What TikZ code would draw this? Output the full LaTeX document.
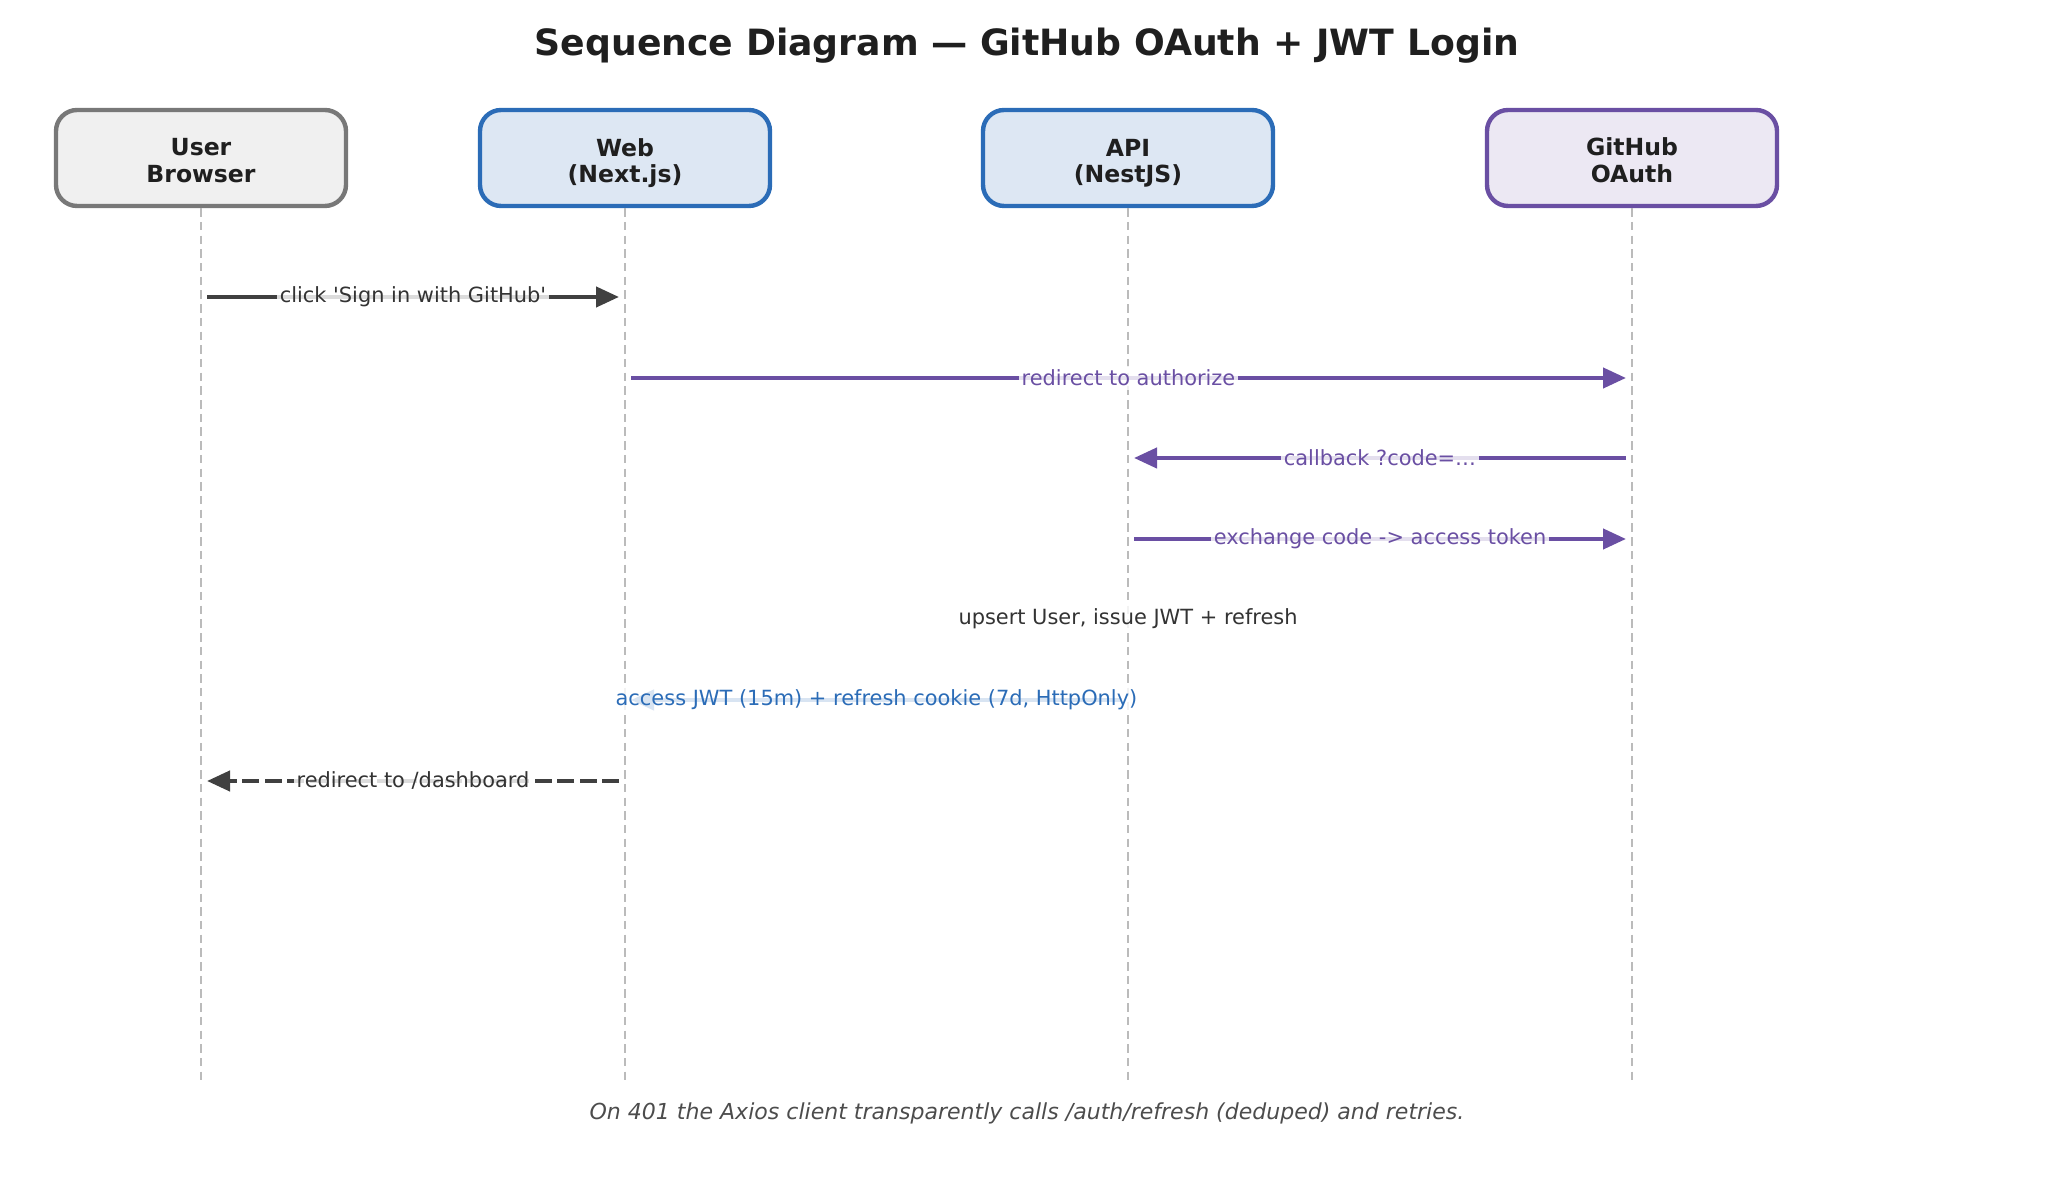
\documentclass[tikz,border=0pt]{standalone}
\usepackage{fontspec}
\setmainfont{DejaVu Sans}
\usepackage{xcolor}
\usetikzlibrary{arrows.meta, positioning, calc}

\definecolor{inkgray}{HTML}{404040}
\definecolor{txtgray}{HTML}{333333}
\definecolor{oauthpurple}{HTML}{6A4FA3}
\definecolor{apiblue}{HTML}{2B6CB7}
\definecolor{lifegray}{HTML}{BBBBBB}

\newcommand{\boxstrut}[1][6.4pt]{\rule{0pt}{#1}}

\begin{document}
\begin{tikzpicture}[
  actor/.style={rectangle, rounded corners=6pt, line width=1.25pt,
    minimum width=2.9cm, minimum height=0.96cm, align=center,
    font=\bfseries\fontsize{6.7}{7.8}\selectfont, text=black!88},
  useractor/.style={actor, draw=black!53, fill=black!6},
  svcactor/.style={actor, draw=apiblue, fill=apiblue!16,
    font=\bfseries\fontsize{6.7}{7.5}\selectfont},
  ghactor/.style={actor, draw=oauthpurple, fill=oauthpurple!13},
  life/.style={draw=lifegray, line width=0.6pt, dash pattern=on 2.4pt off 1.5pt},
  msg/.style={-{Triangle[length=2.3mm, width=2mm]}, line width=1.2pt,
    shorten <=0.6mm, shorten >=0.6mm},
  msglbl/.style={fill=white, fill opacity=0.82, text opacity=1,
    inner xsep=0.8pt, inner ysep=1pt, font=\fontsize{5.95}{7}\selectfont}
]
\useasboundingbox (0,0) rectangle (20.55,11.95);

%% --- Title ---
\node[font=\bfseries\fontsize{10.3}{12}\selectfont, text=black!88] (title) at (10.27,11.49)
  {Sequence Diagram — GitHub OAuth + JWT Login};

%% --- Participants ---
\node[useractor] (user) at ( 2.01,10.37) {\boxstrut User\\Browser};
\node[svcactor]  (web)  at ( 6.25,10.37) {\boxstrut[8pt]Web\\(Next.js)};
\node[svcactor]  (api)  at (11.28,10.37) {\boxstrut[8pt]API\\(NestJS)};
\node[ghactor]   (gh)   at (16.32,10.37) {\boxstrut GitHub\\OAuth};

%% --- Lifelines ---
\coordinate (bottom) at (0,1.12);
\draw[life] (user.south) -- (user |- bottom);
\draw[life] (web.south)  -- (web |- bottom);
\draw[life] (api.south)  -- (api |- bottom);
\draw[life] (gh.south)   -- (gh |- bottom);

%% --- Message rows ---
\coordinate (m1) at (0,8.98);
\coordinate (m2) at (0,8.17);
\coordinate (m3) at (0,7.37);
\coordinate (m4) at (0,6.56);
\coordinate (m5) at (0,5.76);
\coordinate (m6) at (0,4.95);
\coordinate (m7) at (0,4.14);

\draw[msg, draw=inkgray] (user |- m1) -- (web |- m1)
  node[msglbl, midway, text=txtgray] (click) {click \textquotesingle Sign in with GitHub\textquotesingle};
\draw[msg, draw=oauthpurple] (web |- m2) -- (gh |- m2)
  node[msglbl, midway, text=oauthpurple] (authz) {redirect to authorize};
\draw[msg, draw=oauthpurple] (gh |- m3) -- (api |- m3)
  node[msglbl, midway, text=oauthpurple] (cb) {callback ?code=…};
\draw[msg, draw=oauthpurple] (api |- m4) -- (gh |- m4)
  node[msglbl, midway, text=oauthpurple] (xchg) {exchange code -> access token};
\node[msglbl, text=txtgray] (upsert) at (api |- m5) {upsert User, issue JWT + refresh};
\draw[msg, draw=apiblue] (api |- m6) -- (web |- m6)
  node[msglbl, midway, text=apiblue] (jwt) {access JWT (15m) + refresh cookie (7d, HttpOnly)};
\draw[msg, draw=inkgray, dash pattern=on 4.8pt off 1.6pt] (web |- m7) -- (user |- m7)
  node[msglbl, midway, text=txtgray] (dash) {redirect to /dashboard};

%% --- Footnote ---
\node[font=\itshape\fontsize{6.27}{7.5}\selectfont, text=black!70] (note) at (10.27,0.82)
  {On 401 the Axios client transparently calls /auth/refresh (deduped) and retries.};

\end{tikzpicture}
\end{document}
